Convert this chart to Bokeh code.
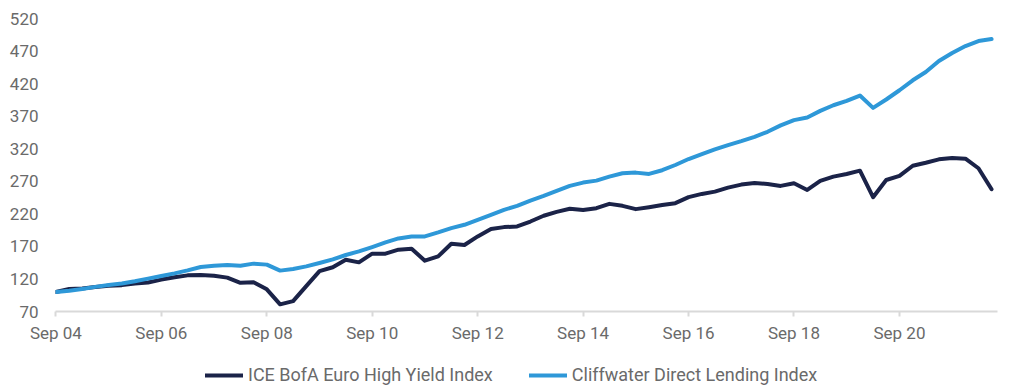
import pandas as pd
from bokeh.plotting import figure
from bokeh.layouts import column
from bokeh.models import (Range1d, FixedTicker, DatetimeTickFormatter, Legend, LegendItem)
from bokeh.embed import file_html
from bokeh.resources import INLINE

# Quarterly dates, Sep 2004 .. Jun 2022
quarters = pd.date_range("2004-09-30", "2022-06-30", freq="QE")

series_names = ["ICE BofA Euro High Yield Index", "Cliffwater Direct Lending Index"]

ice_bofa_hy = [
    100, 104.5, 105.5, 107.5, 109.5, 110.5, 113, 114.5, 119, 122.5,
    125.5, 126, 125, 122, 114, 115, 104, 81, 86, 109,
    132, 138, 149.6, 145.5, 158.8, 158.8, 164.9, 166.4, 148, 154.6,
    174, 172.1, 185.3, 196.6, 199.6, 200.6, 208.2, 217, 223, 227.7,
    226, 228.7, 235.3, 232.3, 227.2, 230.2, 233.5, 236.4, 245.6, 250.6,
    254.1, 260.3, 264.9, 267.5, 265.9, 262.9, 267, 256.7, 270.5, 277.1,
    281.2, 286.3, 245.6, 272, 278.2, 293.9, 298.5, 303.7, 305.7, 304.7,
    290, 257.8,
]

cliffwater_dl = [
    100, 102, 104.7, 107.8, 110.8, 112.9, 116.4, 120.5, 124.6, 128.6,
    133.2, 138.4, 140.4, 141.4, 140.4, 143.5, 142, 132.8, 135.3, 139.3,
    144.5, 150, 156.8, 162.3, 169, 176.1, 182.2, 185.3, 185.3, 191.4,
    198.1, 203.2, 210.8, 218.5, 226.1, 232.3, 240.4, 247.6, 255.2, 262.9,
    268, 271, 277.1, 282.3, 283.3, 281.3, 287, 295, 304.2, 311.8,
    319, 325.6, 331.7, 338.3, 346, 355.8, 363.9, 368, 378.1, 386.8,
    393.4, 401.7, 382.7, 395.6, 409.8, 425.1, 437.8, 454.7, 467, 477.7,
    485.3, 488.4,
]

x_tick_years = [2004, 2006, 2008, 2010, 2012, 2014, 2016, 2018, 2020]
y_ticks = [70, 120, 170, 220, 270, 320, 370, 420, 470, 520]

DARK = "#1b2348"
LIGHT = "#2e98d8"
TEXT = "#6a6a6a"
AXIS = "#d9d9d9"
FONT = "Roboto"

p = figure(
    width=1009, height=345,
    x_axis_type="datetime",
    output_backend="svg", toolbar_location=None,
    min_border_left=55, min_border_right=12, min_border_top=18, min_border_bottom=32,
    x_range=Range1d(quarters[0] - pd.Timedelta(days=3), quarters[-1] + pd.Timedelta(days=41)),
    y_range=Range1d(y_ticks[0], y_ticks[-1]),
)
p.outline_line_color = None
p.grid.visible = False

line_style = dict(line_width=4, line_cap="round", line_join="round")
r1 = p.line(quarters, ice_bofa_hy, line_color=DARK, **line_style)
r2 = p.line(quarters, cliffwater_dl, line_color=LIGHT, **line_style)

# X axis
tick_ms = [pd.Timestamp(f"{y}-09-30").value // 10**6 for y in x_tick_years]
p.xaxis.ticker = FixedTicker(ticks=tick_ms)
fmt = "%b %y"
p.xaxis.formatter = DatetimeTickFormatter(
    milliseconds=fmt, seconds=fmt, minsec=fmt, minutes=fmt, hourmin=fmt,
    hours=fmt, days=fmt, months=fmt, years=fmt)
p.xaxis.axis_line_color = AXIS
p.xaxis.axis_line_width = 2
p.xaxis.major_tick_line_color = AXIS
p.xaxis.major_tick_line_width = 2
p.xaxis.major_tick_out = 5
p.xaxis.major_tick_in = 0
p.xaxis.minor_tick_line_color = None
p.xaxis.major_label_standoff = 6
p.xaxis.major_label_text_font = FONT
p.xaxis.major_label_text_font_size = "17px"
p.xaxis.major_label_text_color = TEXT

# Y axis
p.yaxis.ticker = FixedTicker(ticks=y_ticks)
p.yaxis.axis_line_color = None
p.yaxis.major_tick_line_color = None
p.yaxis.minor_tick_line_color = None
p.yaxis.major_tick_out = 0
p.yaxis.major_tick_in = 0
p.yaxis.major_label_standoff = 17
p.yaxis.major_label_text_font = FONT
p.yaxis.major_label_text_font_size = "17px"
p.yaxis.major_label_text_color = TEXT

# Legend strip (separate figure so it is not clipped by the plot frame).
# Its key renderers reuse the series, but sit outside the strip's visible range.
lg = figure(
    width=1009, height=47, output_backend="svg", toolbar_location=None,
    x_axis_location=None, y_axis_location=None,
    min_border_left=0, min_border_right=0, min_border_top=0, min_border_bottom=0,
    x_range=Range1d(0, 1), y_range=Range1d(0, 1),
)
lg.outline_line_color = None
lg.grid.visible = False
k1 = lg.line(quarters, ice_bofa_hy, line_color=DARK, **line_style)
k2 = lg.line(quarters, cliffwater_dl, line_color=LIGHT, **line_style)

legend = Legend(
    items=[LegendItem(label=series_names[0], renderers=[k1]),
           LegendItem(label=series_names[1], renderers=[k2])],
    orientation="horizontal",
    location=(150, 7),
    glyph_width=38, glyph_height=20, label_height=20,
    label_standoff=5, spacing=36,
    padding=0, margin=0,
    border_line_color=None, background_fill_alpha=0,
    label_text_font=FONT, label_text_font_size="18px", label_text_color=TEXT,
)
lg.add_layout(legend, "center")

layout = column(p, lg, spacing=0)
open("out.html", "w").write(file_html(layout, INLINE))
